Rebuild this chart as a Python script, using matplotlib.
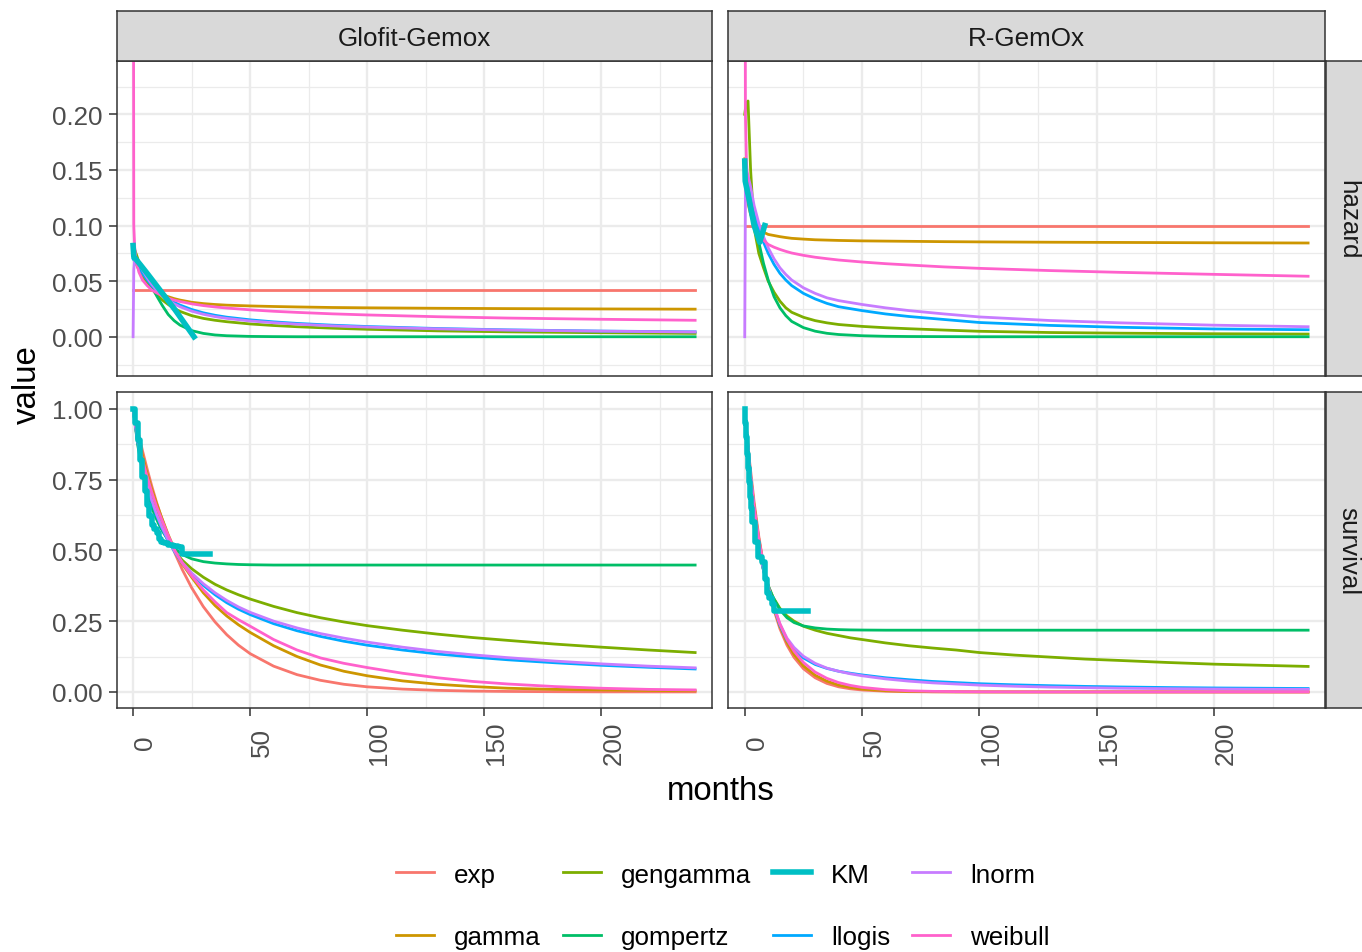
import matplotlib
matplotlib.use("Agg")
import matplotlib.pyplot as plt
from matplotlib.lines import Line2D

plt.rcParams['font.family'] = ['Liberation Sans', 'DejaVu Sans']

# ---- values ----
models = ["exp", "gamma", "gengamma", "gompertz", "KM", "llogis", "lnorm", "weibull"]
model_colors = ["#F8766D", "#CD9600", "#7CAE00", "#00BE67", "#00BFC4", "#00A9FF", "#C77CFF", "#FF61CC"]
treatments = ["Glofit-Gemox", "R-GemOx"]
measures = ["hazard", "survival"]

months_h = [0, 0.3, 0.7, 1.4, 2.5, 4, 6, 8, 10, 12.5, 15, 17.5, 20, 25, 30, 35, 40,
            50, 60, 70, 85, 100, 130, 160, 200, 240]
months_s = [0, 2, 4, 6, 8, 10, 12, 15, 18, 21, 25, 30, 35, 40, 45, 50, 60, 70, 80, 90,
            100, 115, 130, 145, 160, 180, 200, 220, 240]

# Glofit-Gemox, hazard
gh_exp = [0.042, 0.042, 0.042, 0.042, 0.042, 0.042, 0.042, 0.042, 0.042, 0.042, 0.042, 0.042, 0.042,
          0.042, 0.042, 0.042, 0.042, 0.042, 0.042, 0.042, 0.042, 0.042, 0.042, 0.042, 0.042, 0.042]
gh_gamma = [0.075, 0.072, 0.069, 0.065, 0.060, 0.054, 0.048, 0.044, 0.041, 0.038, 0.036, 0.0343, 0.033,
            0.031, 0.0298, 0.029, 0.0284, 0.0277, 0.0272, 0.0268, 0.0263, 0.026, 0.0256, 0.0253, 0.025, 0.0248]
gh_gengamma = [0.080, 0.079, 0.078, 0.074, 0.067, 0.058, 0.049, 0.043, 0.038, 0.033, 0.029, 0.0255, 0.0228,
               0.019, 0.0165, 0.0148, 0.0135, 0.0115, 0.0101, 0.009, 0.0077, 0.0067, 0.0053, 0.0044, 0.0036, 0.003]
gh_gompertz = [0.075, 0.074, 0.073, 0.071, 0.067, 0.061, 0.053, 0.045, 0.037, 0.028, 0.020, 0.0145, 0.0105,
               0.0055, 0.003, 0.0016, 0.0009, 0.0003, 0.0001, 0.0, 0.0, 0.0, 0.0, 0.0, 0.0, 0.0]
gh_llogis = [0.070, 0.069, 0.068, 0.066, 0.062, 0.057, 0.051, 0.046, 0.042, 0.0375, 0.034, 0.031, 0.0285,
             0.0245, 0.0215, 0.0193, 0.0176, 0.0152, 0.0134, 0.012, 0.0104, 0.0092, 0.0074, 0.0062, 0.0051, 0.0044]
gh_lnorm = [0.0, 0.060, 0.070, 0.070, 0.066, 0.060, 0.053, 0.047, 0.042, 0.037, 0.033, 0.0295, 0.027,
            0.023, 0.0202, 0.0181, 0.0165, 0.0142, 0.0126, 0.0113, 0.0098, 0.0087, 0.0071, 0.006, 0.005, 0.0043]
gh_weibull = [0.600, 0.100, 0.080, 0.067, 0.058, 0.051, 0.046, 0.042, 0.0395, 0.0368, 0.0347, 0.033, 0.0317,
              0.0296, 0.028, 0.0268, 0.0258, 0.0242, 0.0229, 0.0219, 0.0206, 0.0196, 0.018, 0.0168, 0.0157, 0.0148]
km_h_t_glofit = [0, 0.3, 3, 6, 10, 14, 18, 22, 26]
km_h_glofit = [0.082, 0.072, 0.065, 0.057, 0.046, 0.035, 0.024, 0.012, 0.0]

# R-GemOx, hazard
rh_exp = [0.100, 0.100, 0.100, 0.100, 0.100, 0.100, 0.100, 0.100, 0.100, 0.100, 0.100, 0.100, 0.100,
          0.100, 0.100, 0.100, 0.100, 0.100, 0.100, 0.100, 0.100, 0.100, 0.100, 0.100, 0.100, 0.100]
rh_gamma = [0.160, 0.140, 0.130, 0.120, 0.110, 0.102, 0.097, 0.094, 0.092, 0.091, 0.090, 0.0892, 0.0885,
            0.0878, 0.0872, 0.0869, 0.0866, 0.0862, 0.086, 0.0858, 0.0855, 0.0853, 0.085, 0.0848, 0.0845, 0.0843]
rh_gengamma = [0.200, 0.205, 0.210, 0.212, 0.150, 0.098, 0.075, 0.062, 0.050, 0.040, 0.032, 0.026, 0.022,
               0.0175, 0.0145, 0.0125, 0.011, 0.0093, 0.0081, 0.0072, 0.006, 0.0049, 0.0038, 0.0032, 0.0027, 0.0024]
rh_gompertz = [0.145, 0.143, 0.140, 0.135, 0.125, 0.108, 0.085, 0.066, 0.051, 0.036, 0.026, 0.019, 0.0138,
               0.0082, 0.005, 0.0031, 0.002, 0.0009, 0.0004, 0.0002, 0.0001, 0.0, 0.0, 0.0, 0.0, 0.0]
rh_llogis = [0.150, 0.148, 0.145, 0.140, 0.130, 0.113, 0.097, 0.085, 0.075, 0.065, 0.057, 0.051, 0.046,
             0.039, 0.034, 0.030, 0.027, 0.0235, 0.0205, 0.0182, 0.0155, 0.0128, 0.0102, 0.0085, 0.007, 0.0063]
rh_lnorm = [0.0, 0.130, 0.150, 0.145, 0.135, 0.118, 0.102, 0.090, 0.080, 0.070, 0.062, 0.056, 0.051,
            0.044, 0.039, 0.035, 0.0325, 0.029, 0.026, 0.0235, 0.0205, 0.0178, 0.0146, 0.0125, 0.0104, 0.009]
rh_weibull = [0.600, 0.200, 0.160, 0.130, 0.112, 0.099, 0.092, 0.087, 0.083, 0.0805, 0.0785, 0.0768, 0.0753,
              0.0732, 0.0715, 0.0702, 0.069, 0.0672, 0.0657, 0.0645, 0.0628, 0.0615, 0.0595, 0.0579, 0.0561, 0.0544]
km_h_t_rgemox = [0, 0.2, 2, 4, 6.4, 8.5]
km_h_rgemox = [0.158, 0.140, 0.122, 0.100, 0.085, 0.100]

# Glofit-Gemox, survival
gs_exp = [1.0, 0.923, 0.852, 0.787, 0.726, 0.670, 0.619, 0.549, 0.487, 0.432, 0.368, 0.301, 0.247, 0.202,
          0.165, 0.135, 0.091, 0.061, 0.041, 0.027, 0.018, 0.010, 0.0055, 0.003, 0.0017, 0.0008, 0.0003,
          0.0002, 0.0001]
gs_gamma = [1.0, 0.91, 0.835, 0.77, 0.715, 0.665, 0.62, 0.555, 0.497, 0.452, 0.405, 0.35, 0.305, 0.268,
            0.237, 0.21, 0.163, 0.125, 0.095, 0.073, 0.057, 0.039, 0.027, 0.019, 0.013, 0.009, 0.007,
            0.005, 0.004]
gs_gengamma = [1.0, 0.88, 0.80, 0.735, 0.68, 0.632, 0.59, 0.537, 0.495, 0.465, 0.435, 0.405, 0.38, 0.36,
               0.343, 0.328, 0.302, 0.28, 0.262, 0.247, 0.234, 0.218, 0.204, 0.192, 0.182, 0.169, 0.158,
               0.148, 0.139]
gs_gompertz = [1.0, 0.87, 0.78, 0.71, 0.65, 0.61, 0.575, 0.535, 0.505, 0.485, 0.47, 0.46, 0.455, 0.452,
               0.45, 0.449, 0.448, 0.448, 0.448, 0.448, 0.448, 0.448, 0.448, 0.448, 0.448, 0.448, 0.448,
               0.448, 0.448]
gs_llogis = [1.0, 0.88, 0.795, 0.727, 0.671, 0.624, 0.584, 0.533, 0.491, 0.455, 0.416, 0.376, 0.343, 0.315,
             0.292, 0.273, 0.241, 0.216, 0.196, 0.179, 0.165, 0.148, 0.134, 0.123, 0.1135, 0.103, 0.094,
             0.087, 0.081]
gs_lnorm = [1.0, 0.885, 0.80, 0.732, 0.676, 0.628, 0.588, 0.536, 0.493, 0.457, 0.42, 0.382, 0.35, 0.323,
            0.30, 0.281, 0.25, 0.226, 0.206, 0.19, 0.176, 0.158, 0.143, 0.131, 0.121, 0.109, 0.099, 0.091,
            0.085]
gs_weibull = [1.0, 0.895, 0.82, 0.76, 0.705, 0.655, 0.613, 0.552, 0.497, 0.455, 0.41, 0.36, 0.318, 0.28,
              0.255, 0.232, 0.185, 0.148, 0.12, 0.101, 0.086, 0.066, 0.05, 0.037, 0.028, 0.019, 0.013,
              0.009, 0.007]
km_s_t_glofit = [0, 1, 2, 3, 4, 5, 6, 7, 8, 9, 10, 11, 12, 13, 15, 17, 19, 21, 33]
km_s_glofit = [1.0, 0.95, 0.89, 0.82, 0.76, 0.71, 0.66, 0.62, 0.59, 0.575, 0.56, 0.54, 0.53,
               0.525, 0.52, 0.515, 0.51, 0.487, 0.487]

# R-GemOx, survival
rs_exp = [1.0, 0.819, 0.67, 0.549, 0.449, 0.368, 0.301, 0.223, 0.165, 0.122, 0.082, 0.05, 0.03, 0.018,
          0.011, 0.0067, 0.0025, 0.0009, 0.0003, 0.0001, 0.0, 0.0, 0.0, 0.0, 0.0, 0.0, 0.0, 0.0, 0.0]
rs_gamma = [1.0, 0.80, 0.655, 0.54, 0.447, 0.37, 0.307, 0.232, 0.175, 0.133, 0.092, 0.059, 0.038, 0.024,
            0.016, 0.01, 0.0043, 0.0018, 0.0008, 0.0003, 0.0001, 0.0, 0.0, 0.0, 0.0, 0.0, 0.0, 0.0, 0.0]
rs_gengamma = [1.0, 0.74, 0.58, 0.50, 0.43, 0.375, 0.335, 0.295, 0.268, 0.25, 0.232, 0.218, 0.207, 0.199,
               0.191, 0.185, 0.173, 0.163, 0.155, 0.148, 0.139, 0.13, 0.123, 0.116, 0.111, 0.104, 0.098,
               0.094, 0.09]
rs_gompertz = [1.0, 0.76, 0.60, 0.50, 0.43, 0.375, 0.335, 0.29, 0.262, 0.245, 0.233, 0.226, 0.222, 0.22,
               0.219, 0.2185, 0.218, 0.218, 0.218, 0.218, 0.218, 0.218, 0.218, 0.218, 0.218, 0.218, 0.218,
               0.218, 0.218]
rs_llogis = [1.0, 0.80, 0.64, 0.52, 0.43, 0.36, 0.31, 0.235, 0.183, 0.15, 0.12, 0.097, 0.083, 0.073,
             0.066, 0.06, 0.05, 0.043, 0.037, 0.033, 0.029, 0.025, 0.022, 0.0195, 0.0175, 0.0155, 0.014,
             0.013, 0.012]
rs_lnorm = [1.0, 0.81, 0.645, 0.522, 0.43, 0.36, 0.31, 0.24, 0.19, 0.157, 0.126, 0.101, 0.084, 0.073,
            0.064, 0.057, 0.046, 0.038, 0.032, 0.028, 0.024, 0.02, 0.017, 0.015, 0.013, 0.0115, 0.0103,
            0.0095, 0.009]
rs_weibull = [1.0, 0.79, 0.65, 0.54, 0.45, 0.375, 0.313, 0.24, 0.185, 0.144, 0.104, 0.07, 0.048, 0.033,
              0.023, 0.016, 0.008, 0.004, 0.002, 0.001, 0.0005, 0.0002, 0.0, 0.0, 0.0, 0.0, 0.0, 0.0, 0.0]
km_s_t_rgemox = [0, 0.3, 0.7, 1.0, 1.4, 1.8, 2.2, 2.6, 3.0, 4.5, 5.5, 7.5, 8.5, 9.5, 10.5,
                 11.5, 12.5, 27]
km_s_rgemox = [1.0, 0.95, 0.90, 0.84, 0.79, 0.74, 0.69, 0.65, 0.60, 0.53, 0.475, 0.46, 0.40,
               0.35, 0.33, 0.31, 0.285, 0.285]

x_ticks = [0, 50, 100, 150, 200]
x_minor = [25, 75, 125, 175, 225]
haz_ticks = [0.00, 0.05, 0.10, 0.15, 0.20]
haz_minor = [-0.025, 0.025, 0.075, 0.125, 0.175, 0.225]
surv_ticks = [0.00, 0.25, 0.50, 0.75, 1.00]
surv_minor = [0.125, 0.375, 0.625, 0.875]

# panel curves, built from the lists above
panels = {
    ("hazard", "Glofit-Gemox"): (months_h, [gh_exp, gh_gamma, gh_gengamma, gh_gompertz,
                                            gh_llogis, gh_lnorm, gh_weibull],
                                 km_h_t_glofit, km_h_glofit),
    ("hazard", "R-GemOx"): (months_h, [rh_exp, rh_gamma, rh_gengamma, rh_gompertz,
                                       rh_llogis, rh_lnorm, rh_weibull],
                            km_h_t_rgemox, km_h_rgemox),
    ("survival", "Glofit-Gemox"): (months_s, [gs_exp, gs_gamma, gs_gengamma, gs_gompertz,
                                              gs_llogis, gs_lnorm, gs_weibull],
                                   km_s_t_glofit, km_s_glofit),
    ("survival", "R-GemOx"): (months_s, [rs_exp, rs_gamma, rs_gengamma, rs_gompertz,
                                         rs_llogis, rs_lnorm, rs_weibull],
                              km_s_t_rgemox, km_s_rgemox),
}
param_models = [m for m in models if m != "KM"]
color_of = dict(zip(models, model_colors))

# ---- layout (pixel geometry of the reference) ----
W, H = 1362, 953
fig = plt.figure(figsize=(W / 100, H / 100), dpi=100)


def px_axes(x0, y0, x1, y1):
    return fig.add_axes([x0 / W, 1 - y1 / H, (x1 - x0) / W, (y1 - y0) / H])


def strip(x0, y0, x1, y1):
    sax = px_axes(x0, y0, x1, y1)
    sax.set_facecolor("#D9D9D9")
    sax.set_xticks([])
    sax.set_yticks([])
    for sp in sax.spines.values():
        sp.set_color(EDGE)
        sp.set_linewidth(1.1)
    return sax


col_x = [(116.7, 712.0), (728.3, 1325.0)]
row_y = [(61.5, 377.0), (393.0, 708.5)]
ylims = {"hazard": (-0.0353, 0.2484), "survival": (-0.055, 1.059)}
FS = 18.7
TICK_COL = "#4D4D4D"
EDGE = "#333333"

for r, meas in enumerate(measures):
    for c, trt in enumerate(treatments):
        ax = px_axes(col_x[c][0], row_y[r][0], col_x[c][1], row_y[r][1])
        xs, curves, km_t, km_v = panels[(meas, trt)]
        for name, ys in zip(param_models, curves):
            ax.plot(xs, ys, color=color_of[name], lw=2.0)
        ax.plot(km_t, km_v, color=color_of["KM"], lw=4.0,
                drawstyle="steps-post" if meas == "survival" else "default")
        ax.set_xlim(-7.0, 247.2)
        ax.set_ylim(*ylims[meas])
        ax.set_xticks(x_ticks)
        ax.set_xticks(x_minor, minor=True)
        if meas == "hazard":
            ax.set_yticks(haz_ticks)
            ax.set_yticks(haz_minor, minor=True)
        else:
            ax.set_yticks(surv_ticks)
            ax.set_yticks(surv_minor, minor=True)
        ax.grid(which="major", color="#EBEBEB", lw=1.7)
        ax.grid(which="minor", color="#EBEBEB", lw=0.9)
        ax.set_axisbelow(True)
        for sp in ax.spines.values():
            sp.set_color(EDGE)
            sp.set_linewidth(1.1)
        ax.tick_params(which="minor", length=0)
        ax.tick_params(which="major", color=EDGE, width=1.1, length=5.8,
                       labelsize=FS, labelcolor=TICK_COL, pad=4.5)
        if c == 0:
            ax.set_yticklabels([f"{v:.2f}" for v in ax.get_yticks()])
        else:
            ax.tick_params(axis="y", length=0, labelleft=False)
        if r == 1:
            ax.set_xticklabels([str(v) for v in x_ticks])
            ax.tick_params(axis="x", pad=19.0)
            plt.setp(ax.get_xticklabels(), rotation=90, ha="left", va="center")
        else:
            ax.tick_params(axis="x", length=0, labelbottom=False)

        # facet strips
        if r == 0:
            sax = strip(col_x[c][0], 12.0, col_x[c][1], 61.5)
            sax.text(0.5, 0.46, trt, ha="center", va="center", fontsize=FS,
                     color="#1A1A1A", transform=sax.transAxes)
        if c == 1:
            sax = strip(1326.0, row_y[r][0], 1375.0, row_y[r][1])
            sax.text(22.5 / 49, 0.5, meas, ha="center", va="center", fontsize=FS,
                     color="#1A1A1A", rotation=-90, transform=sax.transAxes)

# axis titles
fig.text(27 / W, 1 - 385 / H, "value", rotation=90, ha="center", va="center",
         fontsize=23.8, color="black")
fig.text(721 / W, 1 - 800 / H, "months", ha="center", va="baseline",
         fontsize=23.8, color="black")

# legend
handles = [Line2D([], [], color=color_of[m], lw=4.0 if m == "KM" else 2.0) for m in models]
fig.legend(handles, models, loc="center", bbox_to_anchor=(723 / W, 1 - 907 / H),
           ncol=4, frameon=False, fontsize=FS, handlelength=1.46, handletextpad=0.77,
           columnspacing=0.85, labelspacing=1.5)

fig.savefig("out.png", dpi=100)
